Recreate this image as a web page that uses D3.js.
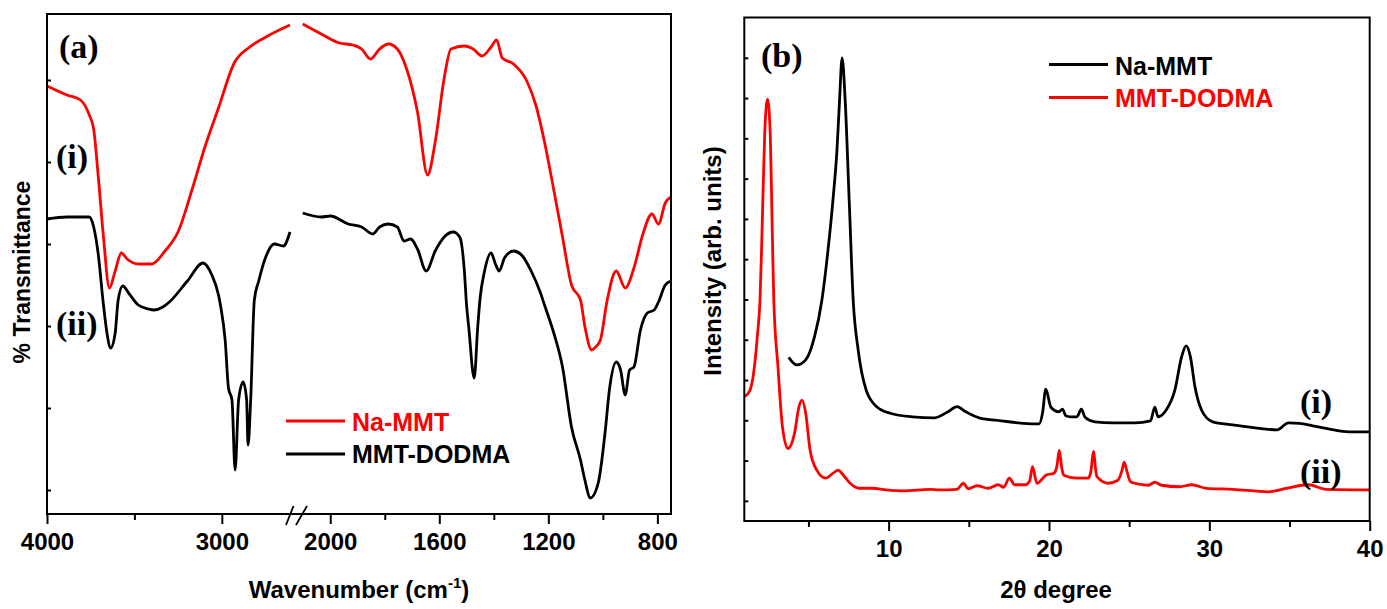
<!DOCTYPE html>
<html><head><meta charset="utf-8">
<script src="https://cdn.jsdelivr.net/npm/d3@7"></script>
<style>body{margin:0;background:#fff}svg{display:block}</style>
</head><body>
<svg id="c" width="1387" height="609"></svg>
<script>
// ---------------- DATA ----------------
// FTIR (panel a): [wavenumber cm-1, % transmittance (arb.)]
const ftirTicksLeft = [4000, 3000];
const ftirMinorLeft = [3500];
const ftirTicksRight = [2000, 1600, 1200, 800];
const ftirMinorRight = [1800, 1400, 1000];
const ftirYTicks = [4.8, 21.2, 37.6, 54, 70.4, 86.8];
const ftirNaMMT = [
  [4000,85.6],[3886,83.8],[3809,82.8],[3758,79.8],[3733,77],[3707,67.6],[3677,55.4],[3643,45.2],[3610,48.6],
  [3575,52.2],[3542,51],[3478,50],[3401,50],[3325,52.6],[3248,56.6],[3171,64.8],[3095,73.6],[3019,81.2],
  [2929,90.2],[2840,93.4],[2738,95.6],[2610,97.8],
  [2101,98],[2033,96],[1967,94.2],[1918,93.8],[1885,93],[1852,91],[1819,93],[1787,94],[1754,93],[1721,89.2],
  [1680,80.4],[1643,67.8],[1615,74.4],[1582,87.2],[1557,93],[1508,93.6],[1476,93],[1443,91.6],[1410,93.4],
  [1390,94.8],[1369,91.2],[1328,90],[1279,86.6],[1246,81.8],[1214,74.4],[1180,64.8],[1148,55.4],[1115,45.8],
  [1082,42.8],[1066,37.5],[1041,32.8],[1025,33.5],[1009,34.8],[984,42.8],[951,48.6],[918,45.2],[886,49.2],
  [853,56],[820,60],[796,58],[771,62.2],[750,63.4]
];
const ftirDODMA = [
  [4000,59],[3886,59.4],[3758,59.4],[3733,57.4],[3707,52],[3677,41.8],[3657,36.2],[3636,33.2],[3610,36.2],
  [3593,42.8],[3567,45.6],[3529,44],[3478,41.8],[3420,41],[3389,40.8],[3337,41.4],[3300,42.4],[3197,46.6],
  [3108,50.2],[3057,47.8],[3019,43.8],[3006,41.4],[2981,34.8],[2962,25.2],[2942,22.8],[2924,8.8],[2904,22.8],
  [2878,26.4],[2858,22.8],[2850,13.8],[2835,22.8],[2814,42.8],[2789,46.6],[2751,51.2],[2700,54],[2648,53.6],
  [2610,56.4],
  [2101,60.2],[2033,59.4],[2000,59.6],[1934,58],[1885,57.4],[1844,56],[1819,57.4],[1787,58],[1754,57.4],
  [1729,54.6],[1705,55],[1680,53],[1648,48.6],[1615,52.6],[1582,55.4],[1549,56.4],[1525,55.4],[1508,48.6],
  [1500,41.8],[1492,37.4],[1472,27.2],[1459,37.4],[1451,42.8],[1434,48.6],[1410,52.2],[1394,50],[1380,48.6],
  [1361,51.2],[1328,52.6],[1295,51.6],[1263,48.6],[1230,44.4],[1214,41.8],[1180,36.2],[1148,29.4],[1115,17.4],
  [1082,10.8],[1066,6.8],[1046,3.2],[1017,6.2],[992,16.2],[976,24.8],[951,30.4],[935,28.8],[918,23.8],
  [902,28.8],[886,29.4],[862,36.8],[837,40.2],[812,40.8],[796,42.4],[771,45.8],[750,46.6]
];

// XRD (panel b): [2-theta degree, intensity (arb.)]
const xrdTicks = [10, 20, 30, 40];
const xrdMinor = [5, 15, 25, 35];
const xrdYTicks = [4, 12, 20, 28, 36, 44, 52, 60, 68, 76, 84, 92];
const xrdNaMMT = [
  [3.77,32.5],[4.27,31],[4.83,32],[5.38,36.6],[5.84,43.9],[6.22,53.8],[6.53,63.8],[6.78,73.7],[6.94,83.6],
  [7.1,92],[7.29,83.6],[7.54,63.8],[7.79,43.9],[8.1,34],[8.6,26],[9.26,22.7],[10.1,21.4],[11.48,20.7],[12.87,20.5],
  [13.7,21.7],[14.26,22.7],[14.81,21.7],[15.64,20.5],[17.03,19.9],[18.41,19.4],[19.39,19.3],[19.6,21.5],
  [19.8,26.2],[20.12,22.6],[20.62,21.7],[20.84,22.2],[21.05,20.9],[21.33,20.7],[21.74,20.7],[22.02,22.2],
  [22.25,20.6],[22.86,19.7],[23.97,19.5],[25.35,19.5],[26.33,19.9],[26.6,22.6],[26.8,20.7],[27.3,22],
  [27.85,26],[28.27,32.6],[28.55,34.8],[28.82,32.6],[29.1,26.7],[29.52,22],[30.21,19.7],[31.46,19.1],
  [33.12,18.4],[34.23,18.1],[34.93,19.5],[35.62,19.4],[36.45,18.9],[37.56,18.2],[38.67,17.7],[40,17.7]
];
const xrdDODMA = [
  [1.02,24.7],[1.36,26],[1.63,30.6],[1.83,37.3],[1.98,43.9],[2.1,56.7],[2.27,76.7],[2.45,83.8],[2.62,76.7],
  [2.75,56.7],[2.84,43.9],[3.1,30.6],[3.38,18.7],[3.72,14.4],[4.13,17.4],[4.41,22.7],[4.6,24],[4.83,21.4],
  [5.1,14.1],[5.52,10.1],[6.07,8.5],[6.54,9.5],[6.85,10.1],[7.18,9.1],[7.6,7.5],[8.15,6.5],[8.98,6.5],
  [9.82,6.2],[10.93,6.0],[12.59,6.3],[13.15,6.2],[14.26,6.3],[14.67,7.5],[14.95,6.4],[15.51,7.0],[16.2,6.5],
  [16.84,7.2],[17.17,6.7],[17.53,8.5],[17.86,7.2],[18.56,7.2],[18.8,8],[18.97,10.8],[19.25,7.5],[19.81,9.1],
  [20.31,9.5],[20.5,11],[20.64,14],[20.8,10.5],[20.92,9.1],[21.75,8.5],[22.44,8.5],[22.62,10],[22.77,13.8],
  [22.92,10],[22.99,8.8],[23.68,7.5],[24.3,8.1],[24.55,10],[24.69,11.7],[24.85,10],[25.08,7.8],[25.63,7.3],
  [26.19,7.1],[26.6,7.7],[27.02,7.1],[28.13,6.8],[28.91,7.2],[29.8,6.5],[31.46,6.3],[33.68,5.8],[34.79,6.5],
  [36.17,7.2],[37.28,6.3],[40,6.2]
];

// ---------------- DRAW ----------------
const svg = d3.select("#c");
const RED = "#ff0000", BLK = "#000000";
const sans = "'Liberation Sans', Arial, sans-serif";
const serif = "'Liberation Serif', 'Times New Roman', serif";

// ===== Panel (a) =====
const A = {l: 47, r: 671, t: 14, b: 514, brk: 297};
const xL = d3.scaleLinear().domain([4000, 2570]).range([A.l, A.brk]);
const xR = d3.scaleLinear().domain([2122, 750]).range([A.brk, A.r]);
const yA = d3.scaleLinear().domain([0, 100]).range([A.b, A.t]);

const gA = svg.append("g");
function styleAxis(g) {
  g.select(".domain").remove();
  g.selectAll(".tick line").attr("stroke", "#000").attr("stroke-width", 2);
  g.selectAll("text").attr("font-family", sans).attr("font-weight", "bold")
    .attr("font-size", 24).attr("fill", "#000");
}
[[xL, ftirTicksLeft, ftirMinorLeft], [xR, ftirTicksRight, ftirMinorRight]].forEach(([sc, maj, min]) => {
  gA.append("g").attr("transform", `translate(0,${A.b})`)
    .call(d3.axisBottom(sc).tickValues(maj).tickSizeInner(10).tickSizeOuter(0).tickPadding(9).tickFormat(d3.format("d")))
    .call(styleAxis);
  gA.append("g").attr("transform", `translate(0,${A.b})`)
    .call(d3.axisBottom(sc).tickValues(min).tickSizeInner(6).tickSizeOuter(0).tickFormat(""))
    .call(styleAxis);
});
gA.append("g").attr("transform", `translate(${A.l},0)`)
  .call(d3.axisLeft(yA).tickValues(ftirYTicks).tickSizeInner(-4).tickSizeOuter(0).tickFormat(""))
  .call(styleAxis);

const lineL = d3.line().x(d => xL(d[0])).y(d => yA(d[1])).curve(d3.curveMonotoneX);
const lineR = d3.line().x(d => xR(d[0])).y(d => yA(d[1])).curve(d3.curveMonotoneX);
[[ftirDODMA, BLK], [ftirNaMMT, RED]].forEach(([data, col]) => {
  gA.append("path").datum(data.filter(d => d[0] >= 2500)).attr("d", lineL)
    .attr("fill", "none").attr("stroke", col).attr("stroke-width", 2.8).attr("stroke-linejoin", "round");
  gA.append("path").datum(data.filter(d => d[0] <= 2200)).attr("d", lineR)
    .attr("fill", "none").attr("stroke", col).attr("stroke-width", 2.8).attr("stroke-linejoin", "round");
});
gA.append("rect").attr("x", A.l).attr("y", A.t).attr("width", A.r - A.l).attr("height", A.b - A.t)
  .attr("fill", "none").attr("stroke", "#000").attr("stroke-width", 2);
// axis break marks
[[286, 293.5], [296, 307]].forEach(([x0, x1]) => {
  gA.append("line").attr("x1", x0).attr("y1", A.b + 11).attr("x2", x1).attr("y2", A.b - 8)
    .attr("stroke", "#000").attr("stroke-width", 1.8);
});

// labels panel (a)
gA.append("text").attr("x", 59).attr("y", 58).text("(a)")
  .attr("font-family", serif).attr("font-weight", "bold").attr("font-size", 34);
gA.append("text").attr("x", 56).attr("y", 168).text("(i)")
  .attr("font-family", serif).attr("font-weight", "bold").attr("font-size", 34);
gA.append("text").attr("x", 56).attr("y", 335).text("(ii)")
  .attr("font-family", serif).attr("font-weight", "bold").attr("font-size", 34);
gA.append("text").attr("transform", "translate(30,272) rotate(-90)").attr("text-anchor", "middle")
  .attr("font-family", sans).attr("font-weight", "bold").attr("font-size", 23).text("% Transmittance");
const wl = gA.append("text").attr("x", 359).attr("y", 598).attr("text-anchor", "middle")
  .attr("font-family", sans).attr("font-weight", "bold").attr("font-size", 24);
wl.append("tspan").text("Wavenumber (cm");
wl.append("tspan").attr("font-size", 15).attr("dy", -10).text("-1");
wl.append("tspan").attr("dy", 10).text(")");
// legend (a)
[[RED, "Na-MMT", 421, 431], [BLK, "MMT-DODMA", 454, 463]].forEach(([c, t, ly, ty]) => {
  gA.append("line").attr("x1", 286).attr("x2", 345).attr("y1", ly).attr("y2", ly)
    .attr("stroke", c).attr("stroke-width", 3);
  gA.append("text").attr("x", 352).attr("y", ty).text(t).attr("fill", c)
    .attr("font-family", sans).attr("font-weight", "bold").attr("font-size", 25);
});

// ===== Panel (b) =====
const B = {l: 744.3, r: 1369.7, t: 17.5, b: 521};
const xB = d3.scaleLinear().domain([1, 40]).range([B.l, B.r]);
const yB = d3.scaleLinear().domain([0, 100]).range([B.b, B.t]);
const gB = svg.append("g");
gB.append("g").attr("transform", `translate(0,${B.b})`)
  .call(d3.axisBottom(xB).tickValues(xrdTicks).tickSizeInner(10).tickSizeOuter(0).tickPadding(9).tickFormat(d3.format("d")))
  .call(styleAxis);
gB.append("g").attr("transform", `translate(0,${B.b})`)
  .call(d3.axisBottom(xB).tickValues(xrdMinor).tickSizeInner(6).tickSizeOuter(0).tickFormat(""))
  .call(styleAxis);
gB.append("g").attr("transform", `translate(${B.l},0)`)
  .call(d3.axisLeft(yB).tickValues(xrdYTicks).tickSizeInner(-4).tickSizeOuter(0).tickFormat(""))
  .call(styleAxis);
const lineB = d3.line().x(d => xB(d[0])).y(d => yB(d[1])).curve(d3.curveMonotoneX);
[[xrdNaMMT, BLK], [xrdDODMA, RED]].forEach(([data, col]) => {
  gB.append("path").datum(data).attr("d", lineB).attr("fill", "none").attr("stroke", col)
    .attr("stroke-width", 2.8).attr("stroke-linejoin", "round");
});
gB.append("rect").attr("x", B.l).attr("y", B.t).attr("width", B.r - B.l).attr("height", B.b - B.t)
  .attr("fill", "none").attr("stroke", "#000").attr("stroke-width", 2);
gB.append("text").attr("x", 761).attr("y", 67).text("(b)")
  .attr("font-family", serif).attr("font-weight", "bold").attr("font-size", 34);
gB.append("text").attr("x", 1300).attr("y", 413).text("(i)")
  .attr("font-family", serif).attr("font-weight", "bold").attr("font-size", 34);
gB.append("text").attr("x", 1300).attr("y", 483).text("(ii)")
  .attr("font-family", serif).attr("font-weight", "bold").attr("font-size", 34);
gB.append("text").attr("transform", "translate(721,261) rotate(-90)").attr("text-anchor", "middle")
  .attr("font-family", sans).attr("font-weight", "bold").attr("font-size", 24).text("Intensity (arb. units)");
gB.append("text").attr("x", 1056).attr("y", 598).attr("text-anchor", "middle")
  .attr("font-family", sans).attr("font-weight", "bold").attr("font-size", 24).text("2θ degree");
[[BLK, "Na-MMT", 64.6, 75], [RED, "MMT-DODMA", 97.6, 107]].forEach(([c, t, ly, ty]) => {
  gB.append("line").attr("x1", 1049).attr("x2", 1108).attr("y1", ly).attr("y2", ly)
    .attr("stroke", c).attr("stroke-width", 3);
  gB.append("text").attr("x", 1115).attr("y", ty).text(t).attr("fill", c)
    .attr("font-family", sans).attr("font-weight", "bold").attr("font-size", 25);
});
</script>
</body></html>
